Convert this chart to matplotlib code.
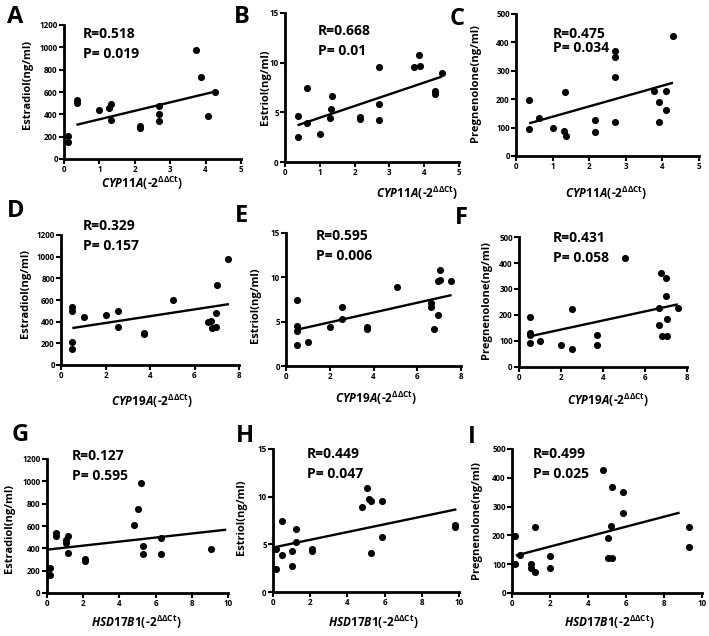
import matplotlib
matplotlib.use('Agg')
import matplotlib.pyplot as plt

plt.rcParams['font.family'] = ['Open Sans', 'DejaVu Sans']
plt.rcParams['font.weight'] = 'bold'
plt.rcParams['mathtext.fontset'] = 'custom'
plt.rcParams['mathtext.rm'] = 'Open Sans:bold'
plt.rcParams['mathtext.bf'] = 'Open Sans:bold'
plt.rcParams['mathtext.it'] = 'Open Sans:italic:bold'

# --- data ---
# A: Estradiol vs CYP11A
a_x = [0.1, 0.1, 0.37, 0.37, 0.99, 1.27, 1.33, 1.33, 2.15, 2.15, 2.69, 2.69, 2.69, 3.74, 3.87, 4.07, 4.27]
a_y = [208, 149, 530, 500, 440, 455, 490, 345, 292, 280, 476, 405, 340, 976, 738, 387, 601]
a_fit_x = [0.35, 4.27]
a_fit_y = [306, 604]

# B: Estriol vs CYP11A
b_x = [0.36, 0.36, 0.63, 0.63, 1.0, 1.29, 1.33, 1.35, 2.15, 2.15, 2.7, 2.7, 2.7, 3.72, 3.84, 3.87, 4.3, 4.3, 4.51]
b_y = [4.6, 2.5, 7.5, 3.9, 2.8, 4.4, 5.3, 6.6, 4.5, 4.3, 9.6, 5.8, 4.2, 9.6, 10.8, 9.7, 7.1, 6.8, 9.0]
b_fit_x = [0.36, 4.51]
b_fit_y = [3.7, 8.6]

# C: Pregnenolone vs CYP11A
c_x = [0.36, 0.36, 0.62, 1.0, 1.3, 1.36, 1.35, 2.16, 2.16, 2.7, 2.71, 2.71, 2.7, 3.77, 3.9, 3.9, 4.09, 4.09, 4.29]
c_y = [197, 95, 133, 100, 88, 72, 227, 127, 83, 370, 350, 277, 121, 230, 191, 119, 230, 162, 424]
c_fit_x = [0.36, 4.29]
c_fit_y = [115, 258]

# D: Estradiol vs CYP19A
d_x = [0.51, 0.51, 0.51, 0.51, 1.03, 2.02, 2.54, 2.54, 3.71, 3.71, 5.05, 6.6, 6.74, 6.77, 6.95, 6.95, 7.0, 7.5]
d_y = [531, 494, 212, 150, 442, 457, 500, 350, 295, 285, 602, 393, 408, 341, 350, 479, 737, 976]
d_fit_x = [0.51, 7.55]
d_fit_y = [341, 562]

# E: Estriol vs CYP19A
e_x = [0.5, 0.5, 0.5, 0.5, 1.02, 2.02, 2.54, 2.54, 3.7, 3.7, 5.06, 6.65, 6.65, 6.78, 6.97, 6.95, 7.03, 7.04, 7.53]
e_y = [7.5, 4.5, 3.9, 2.4, 2.7, 4.35, 6.6, 5.25, 4.4, 4.2, 8.9, 7.05, 6.7, 4.15, 5.8, 9.55, 10.8, 9.75, 9.55]
e_fit_x = [0.5, 7.57]
e_fit_y = [4.1, 8.0]

# F: Pregnenolone vs CYP19A
f_x = [0.51, 0.51, 0.51, 0.51, 1.02, 1.98, 2.54, 2.54, 3.71, 3.71, 5.05, 6.65, 6.67, 6.78, 6.81, 6.98, 6.98, 7.03, 7.03, 7.56]
f_y = [192, 131, 122, 94, 99, 83, 71, 224, 124, 83, 421, 160, 227, 363, 118, 344, 273, 186, 118, 228]
f_fit_x = [0.51, 7.56]
f_fit_y = [118, 241]

# G: Estradiol vs HSD17B1
g_x = [0.15, 0.18, 0.48, 0.48, 1.05, 1.05, 1.18, 1.18, 2.08, 2.08, 4.8, 5.05, 5.22, 5.28, 5.28, 6.3, 6.3, 9.05]
g_y = [224, 158, 537, 507, 472, 448, 507, 358, 304, 290, 612, 752, 985, 418, 352, 493, 352, 394]
g_fit_x = [0.0, 9.9]
g_fit_y = [388, 567]

# H: Estriol vs HSD17B1
h_x = [0.18, 0.18, 0.5, 0.5, 1.04, 1.04, 1.22, 1.22, 2.08, 2.08, 4.8, 5.07, 5.14, 5.25, 5.29, 5.86, 5.86, 9.78, 9.78]
h_y = [4.46, 2.39, 7.5, 3.86, 4.3, 2.7, 6.6, 5.26, 4.46, 4.28, 8.95, 10.88, 9.72, 9.58, 4.14, 9.58, 5.82, 7.0, 6.8]
h_fit_x = [0.09, 9.86]
h_fit_y = [4.7, 8.67]

# I: Pregnenolone vs HSD17B1
i_x = [0.14, 0.14, 0.44, 1.02, 1.02, 1.2, 1.2, 2.02, 2.02, 4.8, 5.04, 5.04, 5.2, 5.26, 5.28, 5.83, 5.86, 9.3, 9.3]
i_y = [199, 99, 131, 100, 87, 73, 228, 128, 87, 426, 191, 120, 233, 367, 120, 349, 277, 230, 160]
i_fit_x = [0.2, 8.82]
i_fit_y = [130, 279]

r_values = ['0.518', '0.668', '0.475', '0.329', '0.595', '0.431', '0.127', '0.449', '0.499']
p_values = ['0.019', '0.01', '0.034', '0.157', '0.006', '0.058', '0.595', '0.047', '0.025']
letters = ['A', 'B', 'C', 'D', 'E', 'F', 'G', 'H', 'I']
y_labels = ['Estradiol(ng/ml)', 'Estriol(ng/ml)', 'Pregnenolone(ng/ml)'] * 3
genes = ['CYP11A', 'CYP11A', 'CYP11A', 'CYP19A', 'CYP19A', 'CYP19A', 'HSD17B1', 'HSD17B1', 'HSD17B1']

xs = [a_x, b_x, c_x, d_x, e_x, f_x, g_x, h_x, i_x]
ys = [a_y, b_y, c_y, d_y, e_y, f_y, g_y, h_y, i_y]
fit_xs = [a_fit_x, b_fit_x, c_fit_x, d_fit_x, e_fit_x, f_fit_x, g_fit_x, h_fit_x, i_fit_x]
fit_ys = [a_fit_y, b_fit_y, c_fit_y, d_fit_y, e_fit_y, f_fit_y, g_fit_y, h_fit_y, i_fit_y]

# --- layout, in reference pixels ---
W, H = 709, 636
# left, right, top, bottom of each axes box
boxes = [(64, 241, 25, 159), (285, 459, 13, 162), (516, 699, 14, 156),
         (61, 239, 235, 365), (286, 461, 233, 366), (519, 687, 237, 367),
         (47, 228, 459, 593), (273, 459, 449, 592), (512, 702, 449, 593)]
xmaxes = [5, 5, 5, 8, 8, 8, 10, 10, 10]
ymaxes = [1200, 15, 500, 1200, 15, 500, 1200, 15, 500]
xstep = [1, 1, 1, 2, 2, 2, 2, 2, 2]
ystep = [200, 5, 100, 200, 5, 100, 200, 5, 100]
letter_pos = [(7, 23), (234, 23), (450, 25), (7, 217), (235, 222), (455, 224),
              (12, 441), (236, 442), (468, 443)]
rp_pos = [(83, 33, 53), (318, 30, 50), (553, 33, 47), (83, 225, 245), (316, 235, 255),
          (553, 237, 257), (72, 455, 475), (307, 453, 473), (533, 453, 473)]
ylab_pos = [(27, 84), (265, 87), (476, 83), (26, 293), (255, 305), (486, 300),
            (10, 528), (241, 517), (477, 520)]
xlab_pos = [(142, 183), (417, 193), (606, 193), (152, 401), (376, 398), (608, 400),
            (136, 622), (373, 622), (609, 622)]

fig = plt.figure(figsize=(W / 100, H / 100), dpi=100)


def fx(x):
    return x / W


def fy(y):
    return 1 - y / H


for k in range(9):
    l, r, t, b = boxes[k]
    ax = fig.add_axes([fx(l), fy(b), (r - l) / W, (b - t) / H])
    ax.scatter(xs[k], ys[k], s=26, color='black', linewidths=0, zorder=3, clip_on=False)
    ax.plot(fit_xs[k], fit_ys[k], color='black', lw=1.7, solid_capstyle='butt')
    ax.set_xlim(0, xmaxes[k])
    ax.set_ylim(0, ymaxes[k])
    ax.set_xticks(range(0, xmaxes[k] + 1, xstep[k]))
    ax.set_yticks(range(0, ymaxes[k] + 1, ystep[k]))
    for side in ['top', 'right']:
        ax.spines[side].set_visible(False)
    for side in ['left', 'bottom']:
        ax.spines[side].set_linewidth(2)
    ax.tick_params(direction='out', length=3.5, width=1.5, labelsize=5.8, pad=1)
    ax.patch.set_alpha(0)

    lx, ly = letter_pos[k]
    fig.text(fx(lx), fy(ly), letters[k], fontsize=17, ha='left', va='baseline')

    rx, ry, py = rp_pos[k]
    fig.text(fx(rx), fy(ry + 5), 'R=' + r_values[k], fontsize=10, ha='left', va='baseline')
    fig.text(fx(rx), fy(py + 5), 'P= ' + p_values[k], fontsize=10, ha='left', va='baseline')

    yx, yy = ylab_pos[k]
    fig.text(fx(yx), fy(yy), y_labels[k], fontsize=8, rotation=90, ha='center', va='center')

    xx, xy = xlab_pos[k]
    label = r'$\mathit{' + genes[k] + r'}$(-2$^{\Delta\Delta \mathrm{Ct}}$)'
    fig.text(fx(xx), fy(xy), label, fontsize=8.5, ha='center', va='center')

fig.savefig('out.png', dpi=100)
